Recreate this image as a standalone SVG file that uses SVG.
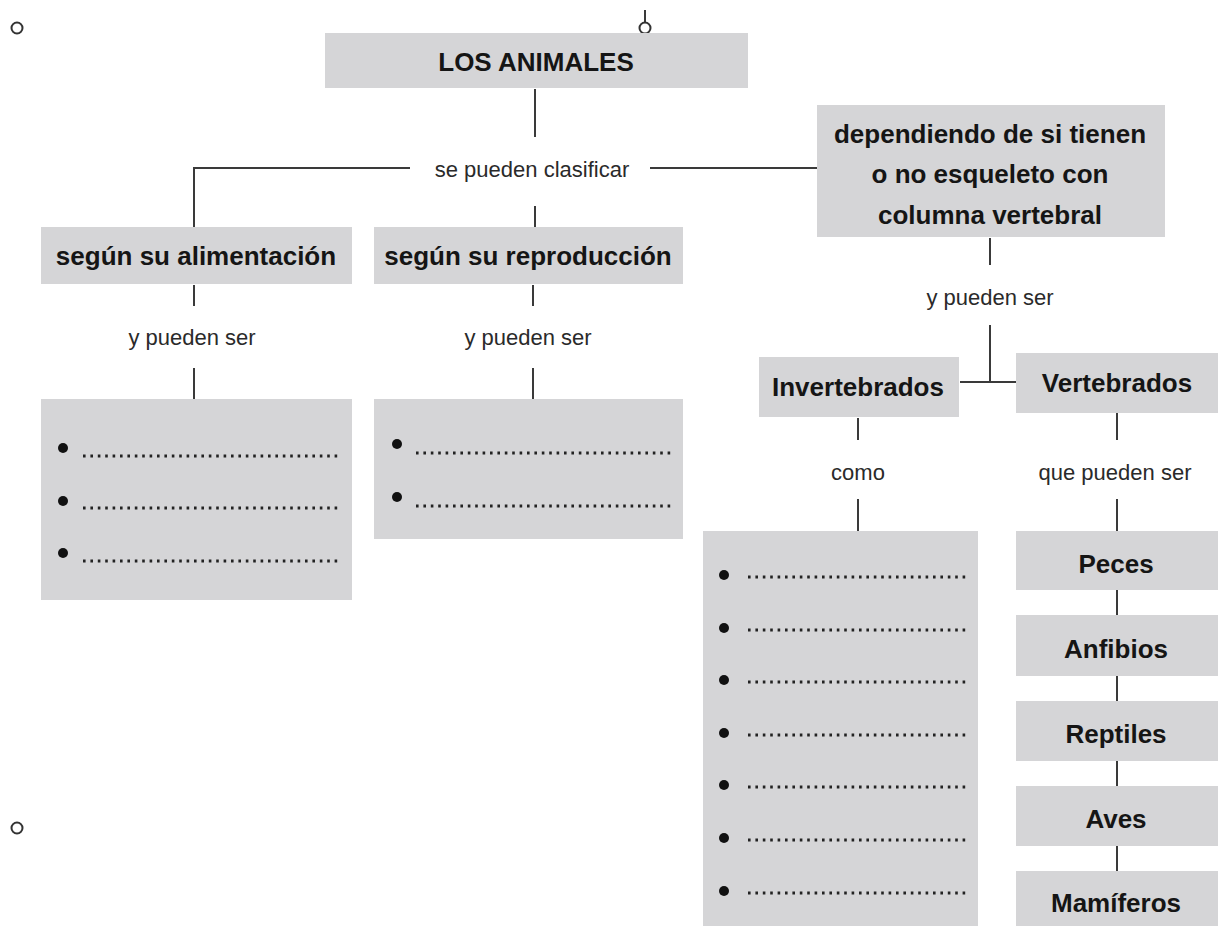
<svg xmlns="http://www.w3.org/2000/svg" width="1218" height="926" viewBox="0 0 1218 926">
<style>
.box{fill:#d5d5d7}
.b{font-family:"Liberation Sans",Arial,sans-serif;font-weight:bold;font-size:26px;fill:#151515;text-anchor:middle}
.l{font-family:"Liberation Sans",Arial,sans-serif;font-size:22px;fill:#2a2a2a;text-anchor:middle}
.c{stroke:#3a3a3a;stroke-width:2;fill:none}
.dot{stroke:#222;stroke-width:2.8;stroke-dasharray:2.6 4.8;fill:none}
.bul{fill:#111}
.ring{fill:#fff;stroke:#333;stroke-width:2}
</style>
<rect width="1218" height="926" fill="#fff"/>
<g id="marks">
<circle class="ring" cx="17" cy="28" r="5.5"/>
<circle class="ring" cx="17" cy="828" r="5.5"/>
<line class="c" x1="645" y1="10" x2="645" y2="22" stroke-width="1.6"/>
<circle class="ring" cx="645" cy="28" r="5.5"/>
</g>
<g id="connectors">
<line class="c" x1="535" y1="89" x2="535" y2="137"/>
<polyline class="c" points="410,168 194,168 194,228"/>
<line class="c" x1="650" y1="168" x2="817" y2="168"/>
<line class="c" x1="535" y1="206" x2="535" y2="228"/>
<line class="c" x1="194" y1="285" x2="194" y2="306"/>
<line class="c" x1="194" y1="368" x2="194" y2="399"/>
<line class="c" x1="533" y1="285" x2="533" y2="306"/>
<line class="c" x1="533" y1="368" x2="533" y2="399"/>
<line class="c" x1="990" y1="238" x2="990" y2="265"/>
<line class="c" x1="990" y1="325" x2="990" y2="382"/>
<line class="c" x1="960" y1="382" x2="1016" y2="382"/>
<line class="c" x1="858" y1="418" x2="858" y2="440"/>
<line class="c" x1="858" y1="499" x2="858" y2="531"/>
<line class="c" x1="1117" y1="413" x2="1117" y2="440"/>
<line class="c" x1="1117" y1="499" x2="1117" y2="531"/>
<line class="c" x1="1117" y1="590" x2="1117" y2="615"/>
<line class="c" x1="1117" y1="676" x2="1117" y2="701"/>
<line class="c" x1="1117" y1="761" x2="1117" y2="786"/>
<line class="c" x1="1117" y1="846" x2="1117" y2="871"/>
</g>
<g id="labels">
<text class="l" x="532" y="177">se pueden clasificar</text>
<text class="l" x="192" y="345">y pueden ser</text>
<text class="l" x="528" y="345">y pueden ser</text>
<text class="l" x="990" y="305">y pueden ser</text>
<text class="l" x="858" y="480">como</text>
<text class="l" x="1115" y="480">que pueden ser</text>
</g>
<g id="n-animales">
<rect class="box" x="325" y="33" width="423" height="55"/>
<text class="b" x="536" y="71">LOS ANIMALES</text>
</g>
<g id="n-dependiendo">
<rect class="box" x="817" y="105" width="348" height="132"/>
<text class="b" x="990" y="143">dependiendo de si tienen</text>
<text class="b" x="990" y="183">o no esqueleto con</text>
<text class="b" x="990" y="224">columna vertebral</text>
</g>
<g id="n-alimentacion">
<rect class="box" x="41" y="227" width="311" height="57"/>
<text class="b" x="196" y="265">según su alimentación</text>
</g>
<g id="n-reproduccion">
<rect class="box" x="374" y="227" width="309" height="57"/>
<text class="b" x="528" y="265">según su reproducción</text>
</g>
<g id="n-list1">
<rect class="box" x="41" y="399" width="311" height="201"/>
<circle class="bul" cx="63" cy="448" r="5"/>
<circle class="bul" cx="63" cy="501" r="5"/>
<circle class="bul" cx="63" cy="553" r="5"/>
<line class="dot" x1="83" y1="456" x2="340" y2="456"/>
<line class="dot" x1="83" y1="508" x2="340" y2="508"/>
<line class="dot" x1="83" y1="561" x2="340" y2="561"/>
</g>
<g id="n-list2">
<rect class="box" x="374" y="399" width="309" height="140"/>
<circle class="bul" cx="397" cy="444" r="5"/>
<circle class="bul" cx="397" cy="497" r="5"/>
<line class="dot" x1="416" y1="453" x2="673" y2="453"/>
<line class="dot" x1="416" y1="506" x2="673" y2="506"/>
</g>
<g id="n-invertebrados">
<rect class="box" x="759" y="357" width="200" height="60"/>
<text class="b" x="858" y="396">Invertebrados</text>
</g>
<g id="n-vertebrados">
<rect class="box" x="1016" y="353" width="202" height="60"/>
<text class="b" x="1117" y="392">Vertebrados</text>
</g>
<g id="n-list3">
<rect class="box" x="703" y="531" width="275" height="395"/>
<circle class="bul" cx="724" cy="575" r="5"/>
<circle class="bul" cx="724" cy="628" r="5"/>
<circle class="bul" cx="724" cy="680" r="5"/>
<circle class="bul" cx="724" cy="733" r="5"/>
<circle class="bul" cx="724" cy="785" r="5"/>
<circle class="bul" cx="724" cy="838" r="5"/>
<circle class="bul" cx="724" cy="891" r="5"/>
<line class="dot" x1="748" y1="577" x2="970" y2="577"/>
<line class="dot" x1="748" y1="630" x2="970" y2="630"/>
<line class="dot" x1="748" y1="682" x2="970" y2="682"/>
<line class="dot" x1="748" y1="735" x2="970" y2="735"/>
<line class="dot" x1="748" y1="787" x2="970" y2="787"/>
<line class="dot" x1="748" y1="840" x2="970" y2="840"/>
<line class="dot" x1="748" y1="893" x2="970" y2="893"/>
</g>
<g id="n-peces">
<rect class="box" x="1016" y="531" width="202" height="59"/>
<text class="b" x="1116" y="573">Peces</text>
</g>
<g id="n-anfibios">
<rect class="box" x="1016" y="615" width="202" height="61"/>
<text class="b" x="1116" y="658">Anfibios</text>
</g>
<g id="n-reptiles">
<rect class="box" x="1016" y="701" width="202" height="60"/>
<text class="b" x="1116" y="743">Reptiles</text>
</g>
<g id="n-aves">
<rect class="box" x="1016" y="786" width="202" height="60"/>
<text class="b" x="1116" y="828">Aves</text>
</g>
<g id="n-mamiferos">
<rect class="box" x="1016" y="871" width="202" height="55"/>
<text class="b" x="1116" y="912">Mamíferos</text>
</g>
</svg>
